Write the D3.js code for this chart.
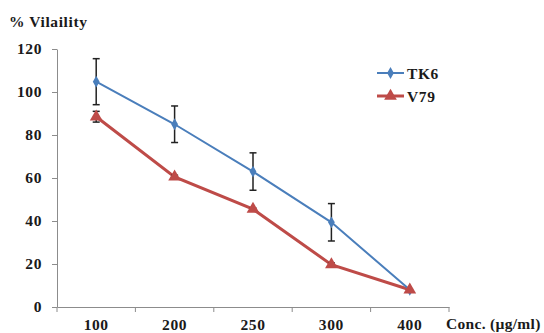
<!DOCTYPE html>
<html>
<head>
<meta charset="utf-8">
<script src="https://cdn.jsdelivr.net/npm/d3@7"></script>
<style>
  body { margin: 0; background: #fff; }
  text { font-family: "Liberation Serif", "Times New Roman", serif; font-weight: bold; fill: #1a1a1a; }
</style>
</head>
<body>
<svg id="chart" width="544" height="333"></svg>
<script>
const categories = ['100', '200', '250', '300', '400'];
const tk6 = [104.8, 85, 63, 39.4, 8];
const tk6Err = [10.7, 8.5, 8.7, 8.7, 0];
const v79 = [88.5, 60.5, 45.5, 19.7, 8];
const v79Err = [2.5, 0.8, 0.5, 0.8, 0];
const yTicks = [0, 20, 40, 60, 80, 100, 120];

const svg = d3.select('#chart');
const plotLeft = 57, plotRight = 449, plotTop = 49, plotBottom = 307;

const x = d3.scaleBand().domain(categories).range([plotLeft, plotRight]);
const y = d3.scaleLinear().domain([0, 120]).range([plotBottom, plotTop]);

// axes
const yAxis = svg.append('g')
  .attr('transform', 'translate(' + plotLeft + ',0)')
  .call(d3.axisLeft(y).tickValues(yTicks).tickSize(5).tickSizeOuter(0).tickPadding(10));
const xAxis = svg.append('g')
  .attr('transform', 'translate(0,' + plotBottom + ')')
  .call(d3.axisBottom(x).tickSize(0).tickPadding(12));

[yAxis, xAxis].forEach(function(a) {
  a.select('.domain').attr('stroke', '#8c8c8c');
  a.selectAll('.tick line').attr('stroke', '#8c8c8c');
  a.selectAll('text').style('font-size', '15.5px').style('letter-spacing', '0.6px');
});

// tick marks between categories on x axis
const xEdges = categories.map(function(c) { return x(c); }).concat([plotRight]);
svg.append('g').selectAll('line')
  .data(xEdges)
  .enter().append('line')
  .attr('x1', function(d) { return d; })
  .attr('x2', function(d) { return d; })
  .attr('y1', plotBottom)
  .attr('y2', plotBottom + 5)
  .attr('stroke', '#8c8c8c');

const cx = function(i) { return x(categories[i]) + x.bandwidth() / 2; };

const series = [
  { name: 'TK6', values: tk6, err: tk6Err, color: '#4a7ebb', width: 2, shape: d3.symbolDiamond, size: 40 },
  { name: 'V79', values: v79, err: v79Err, color: '#be4b48', width: 3, shape: d3.symbolTriangle, size: 70 }
];

const line = d3.line()
  .x(function(d, i) { return cx(i); })
  .y(function(d) { return y(d); });

// red underneath, blue on top
series.slice().reverse().forEach(function(s) {
  svg.append('path')
    .datum(s.values)
    .attr('d', line)
    .attr('fill', 'none')
    .attr('stroke', s.color)
    .attr('stroke-width', s.width);
});

// error bars
series.forEach(function(s) {
  const g = svg.append('g');
  s.values.forEach(function(v, i) {
    if (!s.err[i]) return;
    const px = cx(i);
    const y1 = y(v + s.err[i]), y2 = y(v - s.err[i]);
    g.append('line').attr('x1', px).attr('x2', px).attr('y1', y1).attr('y2', y2)
      .attr('stroke', '#222').attr('stroke-width', 1.5);
    [y1, y2].forEach(function(yy) {
      g.append('line').attr('x1', px - 3.5).attr('x2', px + 3.5).attr('y1', yy).attr('y2', yy)
        .attr('stroke', '#222').attr('stroke-width', 1.5);
    });
  });
});

// markers
series.forEach(function(s) {
  svg.append('g').selectAll('path')
    .data(s.values)
    .enter().append('path')
    .attr('d', d3.symbol().type(s.shape).size(s.size))
    .attr('transform', function(d, i) { return 'translate(' + cx(i) + ',' + y(d) + ')'; })
    .attr('fill', s.color);
});

// legend
const legend = svg.append('g');
series.forEach(function(s, i) {
  const ly = 73 + i * 23;
  legend.append('line').attr('x1', 377).attr('x2', 404).attr('y1', ly).attr('y2', ly)
    .attr('stroke', s.color).attr('stroke-width', s.width);
  legend.append('path')
    .attr('d', d3.symbol().type(s.shape).size(s.size))
    .attr('transform', 'translate(390.5,' + ly + ')')
    .attr('fill', s.color);
  legend.append('text').attr('x', 407).attr('y', ly + 5.5)
    .style('font-size', '15.5px').style('letter-spacing', '0.6px').text(s.name);
});

// titles
svg.append('text').attr('x', 9).attr('y', 27)
  .style('font-size', '15.5px').style('letter-spacing', '0.6px').text('% Vilaility');
svg.append('text').attr('x', 446).attr('y', 329)
  .style('font-size', '15.5px').style('letter-spacing', '0.3px').text('Conc. (µg/ml)');
</script>
</body>
</html>
